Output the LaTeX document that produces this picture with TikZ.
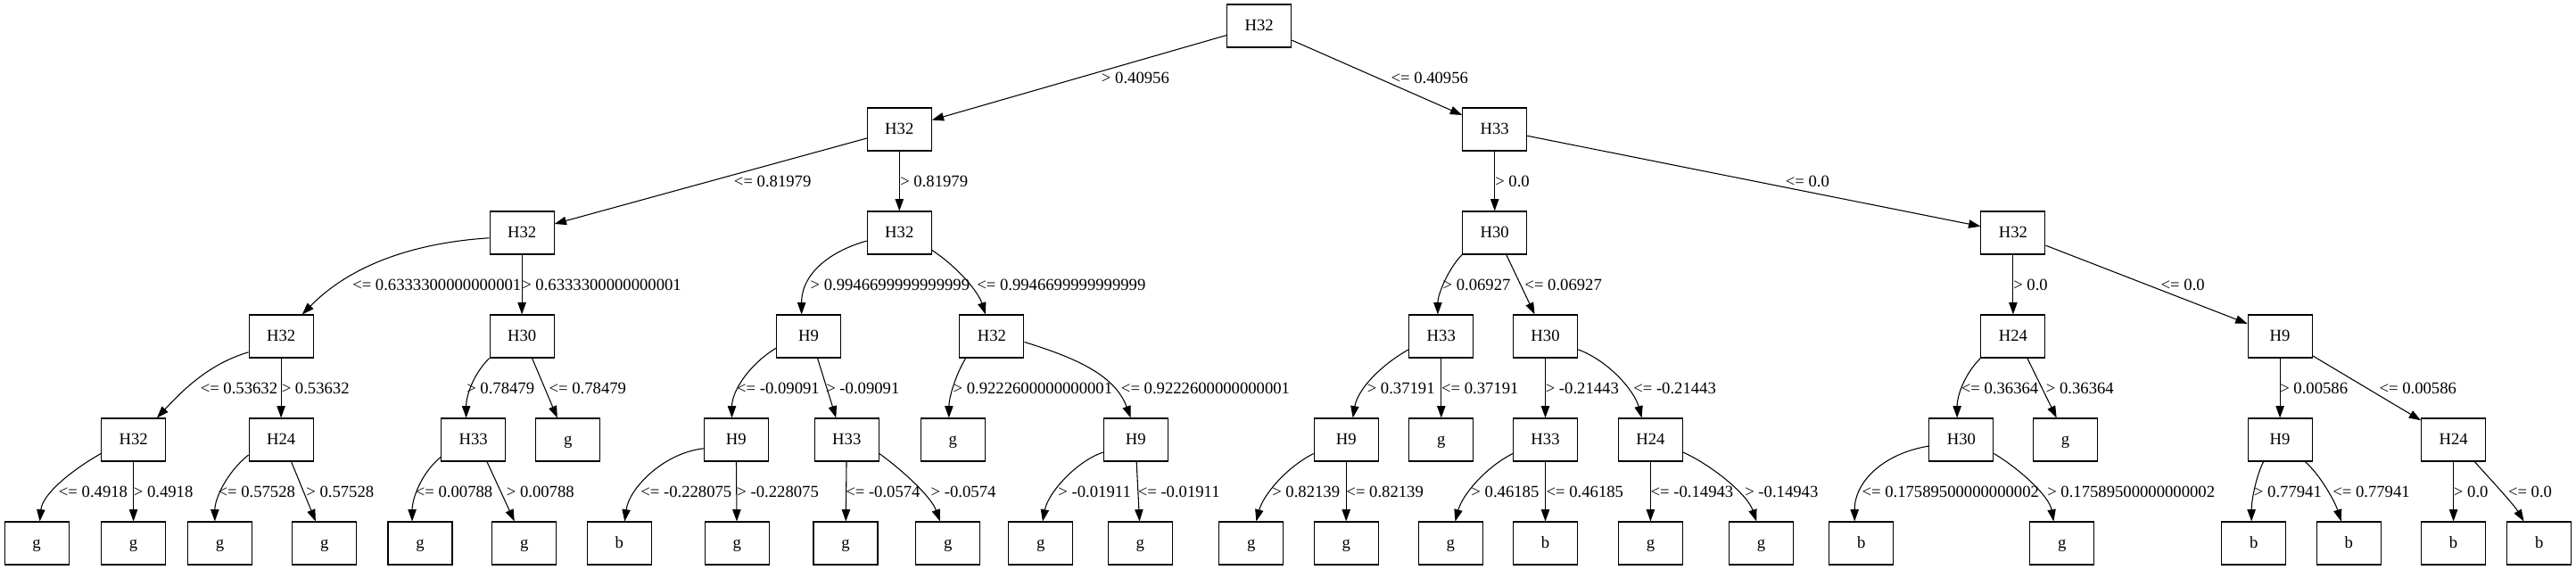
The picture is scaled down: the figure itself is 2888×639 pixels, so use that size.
\documentclass[tikz,border=0pt]{standalone}
\usepackage{fontspec}
\setmainfont{Liberation Serif}
\usetikzlibrary{arrows.meta}
\begin{document}
\begin{tikzpicture}[x=0.75pt,y=-0.75pt,
 box/.style={draw,line width=0.8pt,minimum width=54pt,minimum height=36pt,inner sep=0pt,text height=10pt,text depth=2.2pt,font=\fontsize{14pt}{16pt}\selectfont},
 lbl/.style={anchor=west,inner sep=0pt,text height=9.4pt,text depth=0pt,font=\fontsize{14pt}{16pt}\selectfont},
 edge/.style={line width=0.8pt,-{Triangle[length=10pt,width=7pt]}}]
\useasboundingbox (0,0) rectangle (2888,639);
\fill[white] (0,0) rectangle (2888,639);
% rank 0-2
\node[box] (n0) at (1411.7,29) {H32};
\node[box] (n1) at (1008.3,145) {H32};
\node[box] (n2) at (1675.7,145) {H33};
\node[box] (n3) at (585.1,261) {H32};
\node[box] (n4) at (1008.3,261) {H32};
\node[box] (n5) at (1675.7,261) {H30};
\node[box] (n6) at (2256.9,261) {H32};
% rank 3
\node[box] (n7) at (315.1,377) {H32};
\node[box] (n8) at (585.1,377) {H30};
\node[box] (n9) at (906.6,377) {H9};
\node[box] (n10) at (1111.9,377) {H32};
\node[box] (n11) at (1615.8,377) {H33};
\node[box] (n12) at (1732.5,377) {H30};
\node[box] (n13) at (2256.9,377) {H24};
\node[box] (n14) at (2556.1,377) {H9};
% rank 4
\node[box] (n15) at (149.6,493) {H32};
\node[box] (n16) at (315.1,493) {H24};
\node[box] (n17) at (530.6,493) {H33};
\node[box] (n18) at (636.8,493) {g};
\node[box] (n19) at (825.3,493) {H9};
\node[box] (n20) at (949.3,493) {H33};
\node[box] (n21) at (1068.2,493) {g};
\node[box] (n22) at (1273.3,493) {H9};
\node[box] (n23) at (1509.2,493) {H9};
\node[box] (n24) at (1615.8,493) {g};
\node[box] (n25) at (1732.5,493) {H33};
\node[box] (n26) at (1850.4,493) {H24};
\node[box] (n27) at (2198.9,493) {H30};
\node[box] (n28) at (2315.6,493) {g};
\node[box] (n29) at (2556.1,493) {H9};
\node[box] (n30) at (2750.6,493) {H24};
% rank 5
\node[box] (l1) at (41.1,609) {g};
\node[box] (l2) at (149.6,609) {g};
\node[box] (l3) at (246.5,609) {g};
\node[box] (l4) at (363.8,609) {g};
\node[box] (l5) at (471.0,609) {g};
\node[box] (l6) at (587.7,609) {g};
\node[box] (l7) at (694.2,609) {b};
\node[box] (l8) at (826.2,609) {g};
\node[box] (l9) at (948.0,609) {g};
\node[box] (l10) at (1062.8,609) {g};
\node[box] (l11) at (1166.8,609) {g};
\node[box] (l12) at (1278.4,609) {g};
\node[box] (l13) at (1402.7,609) {g};
\node[box] (l14) at (1509.2,609) {g};
\node[box] (l15) at (1626.3,609) {g};
\node[box] (l16) at (1732.5,609) {b};
\node[box] (l17) at (1850.4,609) {g};
\node[box] (l18) at (1974.4,609) {g};
\node[box] (l19) at (2086.7,609) {b};
\node[box] (l20) at (2311.8,609) {g};
\node[box] (l21) at (2526.7,609) {b};
\node[box] (l22) at (2633.2,609) {b};
\node[box] (l23) at (2750.6,609) {b};
\node[box] (l24) at (2846.7,609) {b};
% edges
\draw[edge] (n0) -- (n1);
\draw[edge] (n0) -- (n2);
\draw[edge] (n1) -- (n3);
\draw[edge] (n1) -- (n4);
\draw[edge] (n2) -- (n5);
\draw[edge] (n2) -- (n6);
\draw[edge] (n3.189) .. controls +(-79,5) and +(57,-58) .. (n7.46);
\draw[edge] (n3) -- (n8);
\draw[edge] (n4.194) .. controls +(-37,10) and +(0,-48) .. (n9.108);
\draw[edge] (n4.332) .. controls +(30,20) and +(-8,-25) .. (n10.106);
\draw[edge] (n5.south west) .. controls +(-15,15) and +(0,-23) .. (n11.99);
\draw[edge] (n5.-62) -- (n12.116);
\draw[edge] (n6) -- (n13);
\draw[edge] (n6) -- (n14);
\draw[edge] (n7.206) .. controls +(-44,13) and +(30,-32) .. (n15.43);
\draw[edge] (n7) -- (n16);
\draw[edge] (n8.south west) .. controls +(-18,18) and +(0,-25) .. (n17.108);
\draw[edge] (n8.-65) -- (n18.116);
\draw[edge] (n9.200) .. controls +(-30,18) and +(0,-30) .. (n19.101);
\draw[edge] (n9.-68) -- (n20.116);
\draw[edge] (n10.220) .. controls +(-12,20) and +(0,-22) .. (n21.100);
\draw[edge] (n10.350) .. controls +(55,17) and +(-18,-49) .. (n22.103);
\draw[edge] (n11.202) .. controls +(-35,20) and +(5,-30) .. (n23.73);
\draw[edge] (n11) -- (n24);
\draw[edge] (n12) -- (n25);
\draw[edge] (n12.338) .. controls +(35,13) and +(-8,-30) .. (n26.112);
\draw[edge] (n13.south west) .. controls +(-18,18) and +(0,-25) .. (n27.101);
\draw[edge] (n13.-57) -- (n28.112);
\draw[edge] (n14) -- (n29);
\draw[edge] (n14) -- (n30);
\draw[edge] (n15.203) .. controls +(-35,20) and +(3,-30) .. (l1.82);
\draw[edge] (n15) -- (l2);
\draw[edge] (n16.205) .. controls +(-25,20) and +(0,-25) .. (l3.103);
\draw[edge] (n16.-65) -- (l4.112);
\draw[edge] (n17.208) .. controls +(-22,18) and +(0,-25) .. (l5.110);
\draw[edge] (n17.-58) -- (l6.114);
\draw[edge] (n19.195) .. controls +(-45,5) and +(5,-37) .. (l7.76);
\draw[edge] (n19) -- (l8);
\draw[edge] (n20) -- (l9);
\draw[edge] (n20.337) .. controls +(25,18) and +(-10,-28) .. (l10.110);
\draw[edge] (n22.201) .. controls +(-30,10) and +(6,-32) .. (l11.85);
\draw[edge] (n22.-88) -- (l12.92);
\draw[edge] (n23.203) .. controls +(-30,15) and +(8,-30) .. (l13.77);
\draw[edge] (n23) -- (l14);
\draw[edge] (n25.203) .. controls +(-30,15) and +(8,-30) .. (l15.78);
\draw[edge] (n25) -- (l16);
\draw[edge] (n26) -- (l17);
\draw[edge] (n26.339) .. controls +(33,15) and +(-10,-30) .. (l18.102);
\draw[edge] (n27.191) .. controls +(-50,8) and +(0,-45) .. (l19.107);
\draw[edge] (n27.337) .. controls +(30,18) and +(-5,-28) .. (l20.111);
\draw[edge] (n29.233) .. controls +(-9,18) and +(0,-22) .. (l21.96);
\draw[edge] (n29.319) .. controls +(17,15) and +(-7,-22) .. (l22.109);
\draw[edge] (n30) -- (l23);
\draw[edge] (n30.314) .. controls +(15,17) and +(-12,-20) .. (l24.125);
% edge labels
\node[lbl] (t1) at (1234.7,87) {> 0.40956};
\node[lbl] (t2) at (1559.3,87) {<= 0.40956};
\node[lbl] (t3) at (822.7,203) {<= 0.81979};
\node[lbl] (t4) at (1009,203) {> 0.81979};
\node[lbl] (t5) at (1676,203) {> 0.0};
\node[lbl] (t6) at (2001.5,203) {<= 0.0};
\node[lbl] (t7) at (395,319) {<= 0.6333300000000001};
\node[lbl] (t8) at (585,319) {> 0.6333300000000001};
\node[lbl] (t9) at (908.3,319) {> 0.9946699999999999};
\node[lbl] (t10) at (1095,319) {<= 0.9946699999999999};
\node[lbl] (t11) at (1617.3,319) {> 0.06927};
\node[lbl] (t12) at (1709.2,319) {<= 0.06927};
\node[lbl] (t13) at (2257,319) {> 0.0};
\node[lbl] (t14) at (2422.4,319) {<= 0.0};
\node[lbl] (t15) at (224.5,435) {<= 0.53632};
\node[lbl] (t16) at (315.5,435) {> 0.53632};
\node[lbl] (t17) at (523,435) {> 0.78479};
\node[lbl] (t18) at (615.4,435) {<= 0.78479};
\node[lbl] (t19) at (825.9,435) {<= -0.09091};
\node[lbl] (t20) at (926,435) {> -0.09091};
\node[lbl] (t21) at (1068.3,435) {> 0.9222600000000001};
\node[lbl] (t22) at (1256.7,435) {<= 0.9222600000000001};
\node[lbl] (t23) at (1532.5,435) {> 0.37191};
\node[lbl] (t24) at (1615.8,435) {<= 0.37191};
\node[lbl] (t25) at (1732.5,435) {> -0.21443};
\node[lbl] (t26) at (1831,435) {<= -0.21443};
\node[lbl] (t27) at (2198.6,435) {<= 0.36364};
\node[lbl] (t28) at (2293.6,435) {> 0.36364};
\node[lbl] (t29) at (2556,435) {> 0.00586};
\node[lbl] (t30) at (2667.3,435) {<= 0.00586};
\node[lbl] (t31) at (65.7,551) {<= 0.4918};
\node[lbl] (t32) at (149.6,551) {> 0.4918};
\node[lbl] (t33) at (244.3,551) {<= 0.57528};
\node[lbl] (t34) at (343.1,551) {> 0.57528};
\node[lbl] (t35) at (465.6,551) {<= 0.00788};
\node[lbl] (t36) at (567.6,551) {> 0.00788};
\node[lbl] (t37) at (718.1,551) {<= -0.228075};
\node[lbl] (t38) at (826.2,551) {> -0.228075};
\node[lbl] (t39) at (948,551) {<= -0.0574};
\node[lbl] (t40) at (1043.4,551) {> -0.0574};
\node[lbl] (t41) at (1186.2,551) {> -0.01911};
\node[lbl] (t42) at (1275.5,551) {<= -0.01911};
\node[lbl] (t43) at (1426,551) {> 0.82139};
\node[lbl] (t44) at (1509.2,551) {<= 0.82139};
\node[lbl] (t45) at (1649.2,551) {> 0.46185};
\node[lbl] (t46) at (1733.4,551) {<= 0.46185};
\node[lbl] (t47) at (1850.4,551) {<= -0.14943};
\node[lbl] (t48) at (1956,551) {> -0.14943};
\node[lbl] (t49) at (2087.3,551) {<= 0.17589500000000002};
\node[lbl] (t50) at (2295,551) {> 0.17589500000000002};
\node[lbl] (t51) at (2526.7,551) {> 0.77941};
\node[lbl] (t52) at (2615,551) {<= 0.77941};
\node[lbl] (t53) at (2750.7,551) {> 0.0};
\node[lbl] (t54) at (2811.7,551) {<= 0.0};
\end{tikzpicture}
\end{document}
